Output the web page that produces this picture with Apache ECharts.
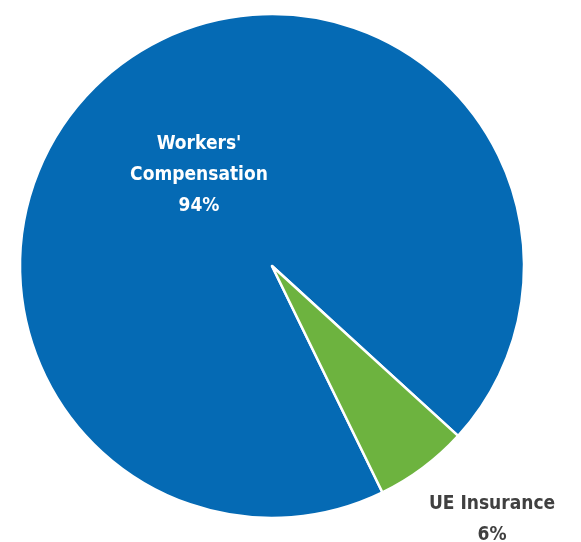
<!DOCTYPE html>
<html>
<head>
<meta charset="utf-8">
<style>
html,body{margin:0;padding:0;background:#fff;}
#chart{width:581px;height:542px;}
</style>
<script src="https://cdn.jsdelivr.net/npm/echarts@6/dist/echarts.min.js"></script>
</head>
<body>
<div id="chart"></div>
<script>
const categories = ["Workers'\nCompensation", "UE Insurance"];
const values = [94, 6];
const colors = ['#056AB4', '#6DB33F'];

const chart = echarts.init(document.getElementById('chart'), null, {renderer: 'canvas'});
const font = "'Liberation Sans Narrow', 'DejaVu Sans Condensed', 'Arial Narrow', sans-serif";

chart.setOption({
  animation: false,
  series: [{
    type: 'pie',
    center: [272, 266],
    radius: [0, 252],
    startAngle: -64,
    clockwise: true,
    data: categories.map((c, i) => ({
      name: c,
      value: values[i],
      itemStyle: {color: colors[i]},
      label: {
        color: i === 0 ? '#ffffff' : '#404040'
      }
    })),
    itemStyle: {borderColor: '#ffffff', borderWidth: 2.5},
    label: {
      show: true,
      position: 'outside',
      formatter: p => p.name + '\n' + p.value + '%',
      fontFamily: font,
      fontWeight: 'bold',
      fontSize: 19,
      lineHeight: 31,
      align: 'center',
      overflow: 'none',
      width: 300
    },
    labelLine: {show: false},
    labelLayout: function (params) {
      if (params.dataIndex === 0) {
        return {x: 199, y: 175, align: 'center', verticalAlign: 'middle'};
      }
      return {x: 492, y: 520, align: 'center', verticalAlign: 'middle'};
    },
    emphasis: {disabled: true}
  }]
});
</script>
</body>
</html>
